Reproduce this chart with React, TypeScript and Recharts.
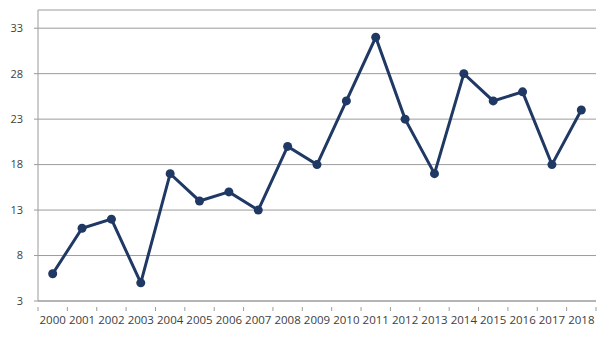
import { LineChart, Line, XAxis, YAxis, CartesianGrid } from 'recharts';

const years = [
  '2000', '2001', '2002', '2003', '2004', '2005', '2006', '2007', '2008', '2009',
  '2010', '2011', '2012', '2013', '2014', '2015', '2016', '2017', '2018',
];
const values = [6, 11, 12, 5, 17, 14, 15, 13, 20, 18, 25, 32, 23, 17, 28, 25, 26, 18, 24];
const yTicks = [3, 8, 13, 18, 23, 28, 33];

const data = years.map((year, i) => ({ year, value: values[i] }));

const LINE = '#1f3864';
const AXIS = '#9b9b9b';
const TEXT = '#404040';

// Excel-style category ticks: label at band centre, tick marks on band edges
function YearTick(props: any) {
  const { x, y, payload, index } = props;
  const half = payload?.offset ?? 0;
  const last = index === years.length - 1;
  return (
    <g>
      <line x1={x - half} x2={x - half} y1={y - 2} y2={y + 2} stroke={AXIS} />
      {last && <line x1={x + half} x2={x + half} y1={y - 2} y2={y + 2} stroke={AXIS} />}
      <text x={x} y={y + 15} textAnchor="middle" fill={TEXT} fontSize={11.5}>
        {payload.value}
      </text>
    </g>
  );
}

export default function App() {
  return (
    <div style={{ position: 'absolute', left: 0, top: 0, fontFamily: '"Open Sans", sans-serif' }}>
      <LineChart
        width={616}
        height={340}
        data={data}
        margin={{ top: 10, right: 20, left: 0, bottom: 9 }}
      >
        <CartesianGrid vertical={false} stroke={AXIS} strokeWidth={1} />
        <XAxis
          dataKey="year"
          scale="band"
          axisLine={{ stroke: AXIS }}
          tickLine={false}
          tick={<YearTick />}
          interval={0}
          height={30}
        />
        <YAxis
          domain={[3, 35]}
          ticks={yTicks}
          width={38}
          axisLine={{ stroke: AXIS }}
          tickLine={{ stroke: AXIS }}
          tickSize={4}
          tickMargin={11}
          tick={{ fill: TEXT, fontSize: 11 }}
        />
        <Line
          type="linear"
          dataKey="value"
          stroke={LINE}
          strokeWidth={3}
          dot={{ r: 4.5, fill: LINE, stroke: LINE, strokeWidth: 0 }}
          isAnimationActive={false}
        />
      </LineChart>
    </div>
  );
}
